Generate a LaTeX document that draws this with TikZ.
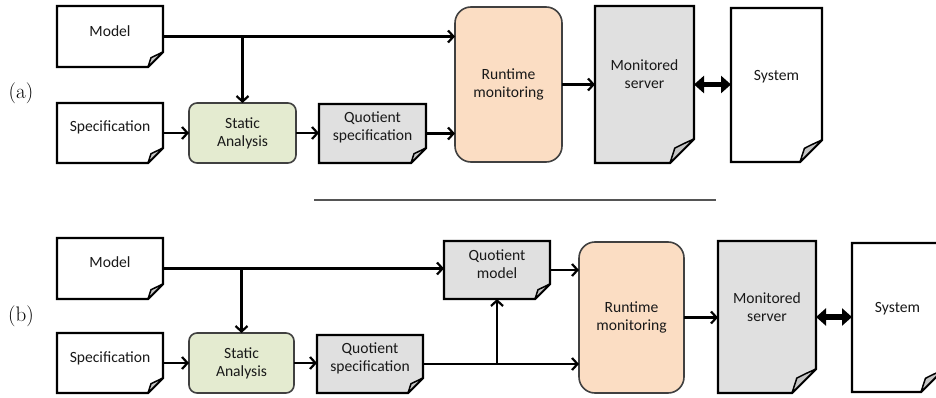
\documentclass[tikz,border=0pt]{standalone}
\usepackage{fontspec}
\setsansfont{Carlito}
\usetikzlibrary{arrows.meta}
\definecolor{qgrey}{HTML}{E0E0E0}
\definecolor{flapgrey}{HTML}{C4C4C4}
\definecolor{sagreen}{HTML}{E4EBD0}
\definecolor{rmpeach}{HTML}{FBDDC3}
\definecolor{sepgrey}{HTML}{555555}
\newcommand\docshape[3]{%
  \filldraw[docline, fill=#3] (#1.north west) -- (#1.north east) -- ([yshift=#2pt]#1.south east) -- ([xshift=-#2pt]#1.south east) -- (#1.south west) -- cycle;
  \filldraw[flap] ([xshift=-#2pt]#1.south east) -- ([xshift=-0.8*#2pt,yshift=0.62*#2pt]#1.south east) .. controls ([xshift=-0.45*#2pt,yshift=0.8*#2pt]#1.south east) .. ([yshift=#2pt]#1.south east) -- cycle;
}
\begin{document}
\begin{tikzpicture}[x=1pt,y=-1pt,
  box/.style={inner sep=0pt, outer sep=0pt, draw=none},
  docline/.style={draw=black, line width=2.4pt, line join=miter},
  flap/.style={draw=black, line width=1.5pt, fill=flapgrey, line join=round},
  txt/.style={font=\sffamily\fontsize{15.6}{18}\selectfont, align=center, inner sep=0pt, text=black!90},
  proc/.style={draw=black!75, line width=1.6pt, font=\sffamily\fontsize{15.6}{18}\selectfont, align=center, inner sep=0pt, outer sep=0pt, text=black!90},
  arr/.style={line width=2.2pt, -{Straight Barb[length=5.5pt,width=12pt]}},
  dbl/.style={line width=5.5pt, {Triangle[length=10pt,width=17pt]}-{Triangle[length=10pt,width=17pt]}},
  lbl/.style={font=\fontsize{21}{25}\selectfont, inner sep=0pt}]
\clip (0,0) rectangle (936,398);

% ---------- (a) ----------
\node[lbl] (la) at (21,93) {(a)};
\node[box, minimum width=106pt, minimum height=61pt] (modelA) at (110,36.5) {};
\node[box, minimum width=106pt, minimum height=60pt] (specA) at (110,133) {};
\node[proc, fill=sagreen, rounded corners=8pt, minimum width=107pt, minimum height=60pt] (staticA) at (242.5,133) {Static\\Analysis};
\node[box, minimum width=107pt, minimum height=59pt] (qspecA) at (372.5,133.5) {};
\node[proc, fill=rmpeach, rounded corners=16pt, minimum width=107pt, minimum height=155pt] (runA) at (508.5,84.5) {Runtime\\monitoring};
\node[box, minimum width=99pt, minimum height=157pt] (serverA) at (644.5,84.5) {};
\node[box, minimum width=91pt, minimum height=154pt] (systemA) at (776.5,85) {};

\docshape{modelA}{15}{white}
\docshape{specA}{15}{white}
\docshape{qspecA}{15}{qgrey}
\docshape{serverA}{24}{qgrey}
\docshape{systemA}{22}{white}

\node[txt] (modelAt) at ([yshift=5pt]modelA.center) {Model};
\node[txt] (specAt) at ([yshift=6pt]specA.center) {Specification};
\node[txt] (qspecAt) at ([yshift=6pt]qspecA.center) {Quotient\\specification};
\node[txt] (serverAt) at ([yshift=10pt]serverA.center) {Monitored\\server};
\node[txt] (systemAt) at ([yshift=8pt]systemA.center) {System};

\draw[arr] (modelA.east) -- (modelA.east -| runA.west);
\draw[arr] (staticA.north |- modelA.east) -- (staticA.north);
\draw[arr] (specA.east) -- (staticA.west);
\draw[arr] (staticA.east) -- (staticA.east -| qspecA.west);
\draw[arr] (qspecA.east) -- (qspecA.east -| runA.west);
\draw[arr] (runA.east) -- (runA.east -| serverA.west);
\draw[dbl] (serverA.east) -- (serverA.east -| systemA.west);

% ---------- separator ----------
\coordinate (sepL) at (314,200);
\coordinate (sepR) at (716,200);
\draw[sepgrey, line width=1.3pt] (sepL) -- (sepR);

% ---------- (b) ----------
\node[lbl] (lb) at (21,316) {(b)};
\node[box, minimum width=106pt, minimum height=61pt] (modelB) at (110,268.5) {};
\node[box, minimum width=106pt, minimum height=60pt] (specB) at (110,363) {};
\node[proc, fill=sagreen, rounded corners=8pt, minimum width=105pt, minimum height=60pt] (staticB) at (241.5,363) {Static\\Analysis};
\node[box, minimum width=106pt, minimum height=58pt] (qspecB) at (370,364) {};
\node[box, minimum width=106pt, minimum height=58pt] (qmodelB) at (497,270) {};
\node[proc, fill=rmpeach, rounded corners=16pt, minimum width=105pt, minimum height=151pt] (runB) at (631.5,317.5) {Runtime\\monitoring};
\node[box, minimum width=98pt, minimum height=152pt] (serverB) at (767,317) {};
\node[box, minimum width=91pt, minimum height=149pt] (systemB) at (897.5,317.5) {};

\docshape{modelB}{15}{white}
\docshape{specB}{15}{white}
\docshape{qspecB}{15}{qgrey}
\docshape{qmodelB}{15}{qgrey}
\docshape{serverB}{24}{qgrey}
\docshape{systemB}{22}{white}

\node[txt] (modelBt) at ([yshift=6pt]modelB.center) {Model};
\node[txt] (specBt) at ([yshift=5pt]specB.center) {Specification};
\node[txt] (qspecBt) at ([yshift=6pt]qspecB.center) {Quotient\\specification};
\node[txt] (qmodelBt) at ([yshift=6pt]qmodelB.center) {Quotient\\model};
\node[txt] (serverBt) at ([yshift=10pt]serverB.center) {Monitored\\server};
\node[txt] (systemBt) at ([yshift=9pt]systemB.center) {System};

\draw[arr] (modelB.east) -- (modelB.east -| qmodelB.west);
\draw[arr] (staticB.north |- modelB.east) -- (staticB.north);
\draw[arr] (specB.east) -- (staticB.west);
\draw[arr] (staticB.east) -- (staticB.east -| qspecB.west);
\draw[arr] (qspecB.east) -- (qspecB.east -| runB.west);
\draw[arr] (qmodelB.south |- qspecB.east) -- (qmodelB.south);
\draw[arr] (qmodelB.east) -- (qmodelB.east -| runB.west);
\draw[arr] (runB.east) -- (runB.east -| serverB.west);
\draw[dbl] (serverB.east) -- (serverB.east -| systemB.west);
\end{tikzpicture}
\end{document}
